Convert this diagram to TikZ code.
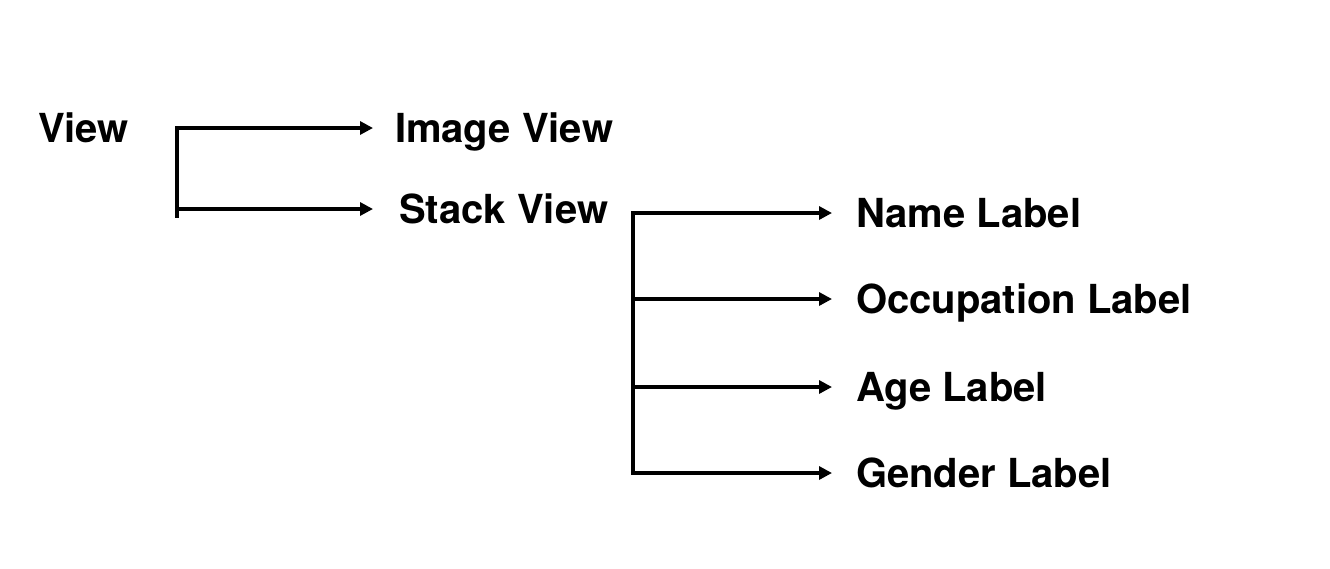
\documentclass[tikz,border=0pt]{standalone}
\usepackage{fontspec}
\setmainfont{TeX Gyre Heros}
\usetikzlibrary{arrows.meta}
\begin{document}
\begin{tikzpicture}[x=1pt,y=-1pt,
  lbl/.style={anchor=west,inner sep=0pt,outer sep=0pt,text height=29pt,text depth=0pt,
    font=\fontsize{40}{48}\selectfont\bfseries},
  conn/.style={line width=3.2pt,line cap=rect,-{Triangle[length=13pt,width=13pt]}},
  plain/.style={line width=3.2pt,line cap=rect}]
\fill[white] (0,0) rectangle (1330,568);
\useasboundingbox (0,0) rectangle (1330,568);
% nodes
\node[lbl] (view) at (38,128) {View};
\node[lbl] (img) at (395,128) {Image View};
\node[lbl] (stk) at (399,209) {Stack View};
\node[lbl] (name) at (856,213) {Name Label};
\node[lbl] (occ) at (856,299) {Occupation Label};
\node[lbl] (age) at (856,387) {Age Label};
\node[lbl] (gen) at (856,473) {Gender Label};
% bracket 1
\coordinate (b1top) at (177,128);
\coordinate (b1mid) at (177,209);
\coordinate (b1bot) at (177,216);
\draw[conn,shorten >=22pt] (b1bot) -- (b1top) -- (img.west);
\draw[conn,shorten >=26pt] (b1mid) -- (stk.west);
% bracket 2
\coordinate (b2top) at (633,213);
\coordinate (b2a) at (633,299);
\coordinate (b2b) at (633,387);
\coordinate (b2bot) at (633,473);
\draw[conn,shorten >=24pt] (b2bot) -- (b2top) -- (name.west);
\draw[conn,shorten >=24pt] (b2a) -- (occ.west);
\draw[conn,shorten >=24pt] (b2b) -- (age.west);
\draw[conn,shorten >=24pt] (b2bot) -- (gen.west);
\end{tikzpicture}
\end{document}
